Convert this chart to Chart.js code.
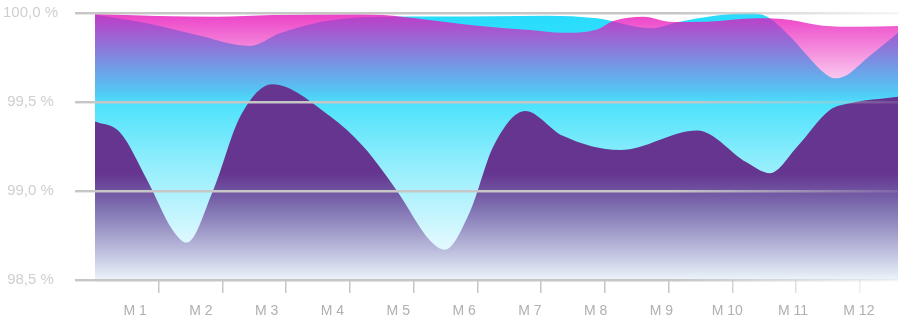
<!DOCTYPE html>
<html>
<head>
<meta charset="utf-8">
<script src="https://cdn.jsdelivr.net/npm/chart.js@4.4.0/dist/chart.umd.min.js"></script>
<style>
  html, body { margin: 0; padding: 0; background: #ffffff; }
  #wrap { width: 909px; height: 326px; position: relative; }
</style>
</head>
<body>
<div id="wrap"><canvas id="chart"></canvas></div>
<script>
// ---- data ----
const categories = ['M 1', 'M 2', 'M 3', 'M 4', 'M 5', 'M 6', 'M 7', 'M 8', 'M 9', 'M 10', 'M 11', 'M 12'];
const categoryPositions = [1, 2, 3, 4, 5, 6, 7, 8, 9, 10, 11, 12];
const yTickValues = [98.5, 99.0, 99.5, 100.0];
const yTickLabels = ['98,5 %', '99,0 %', '99,5 %', '100,0 %'];

// purple series
const purpleX = [0, 0.39, 0.82, 1.22, 1.44, 1.85, 2.28, 2.78, 3.69, 4.21, 4.74, 5.26, 5.49, 5.88, 6.25, 6.75, 7.34, 8.24, 9.45, 10.23, 10.59, 11.02, 11.53, 11.80, 12.60];
const purpleY = [99.39, 99.33, 99.06, 98.78, 98.71, 99.00, 99.42, 99.60, 99.42, 99.25, 99.00, 98.72, 98.67, 98.88, 99.25, 99.45, 99.31, 99.23, 99.34, 99.16, 99.10, 99.25, 99.455, 99.49, 99.53];

// pink series
const pinkX = [0, 0.97, 1.91, 2.79, 4.11, 4.52, 5.15, 6.04, 6.83, 7.34, 7.88, 8.13, 8.60, 9.07, 9.60, 10.39, 10.91, 11.42, 11.96, 12.60];
const pinkY = [99.994, 99.983, 99.979, 99.989, 99.993, 99.989, 99.965, 99.927, 99.904, 99.889, 99.908, 99.955, 99.979, 99.949, 99.951, 99.970, 99.961, 99.929, 99.923, 99.927];

// cyan series
const cyanX = [0, 0.82, 1.60, 2.43, 2.90, 3.42, 3.95, 4.47, 5.41, 7.09, 7.88, 8.71, 9.18, 9.70, 10.28, 10.54, 10.91, 11.17, 11.42, 11.61, 11.80, 12.11, 12.43, 12.60];
const cyanY = [99.992, 99.942, 99.876, 99.815, 99.886, 99.940, 99.970, 99.979, 99.980, 99.985, 99.970, 99.914, 99.951, 99.983, 99.998, 99.980, 99.867, 99.764, 99.670, 99.633, 99.652, 99.746, 99.839, 99.889];

// ---- helpers ----
function pairs(xs, ys) { return xs.map((x, i) => ({ x: x, y: ys[i] })); }

function vGrad(chart, stops) {
  const a = chart.chartArea;
  if (!a) return 'rgba(0,0,0,0)';
  const g = chart.ctx.createLinearGradient(0, a.top, 0, a.bottom);
  stops.forEach(s => g.addColorStop(s[0], s[1]));
  return g;
}
function hGrad(chart, stops) {
  const g = chart.ctx.createLinearGradient(0, 0, chart.width, 0);
  stops.forEach(s => g.addColorStop(s[0], s[1]));
  return g;
}
const gridColor = (c) => hGrad(c.chart, [[0, 'rgba(198,198,198,1)'], [0.74, 'rgba(198,198,198,1)'], [1, 'rgba(198,198,198,0.12)']]);
const xLabelColor = (c) => hGrad(c.chart, [[0, '#b0b0b0'], [0.7, '#c8c8c8'], [1, '#f8f8f8']]);

const FONT = 'Liberation Sans, Arial, Helvetica, sans-serif';

new Chart(document.getElementById('chart'), {
  type: 'line',
  data: {
    datasets: [
      {
        label: 'purple',
        data: pairs(purpleX, purpleY),
        xAxisID: 'x', yAxisID: 'y',
        fill: 'start',
        borderWidth: 0,
        pointRadius: 0,
        cubicInterpolationMode: 'monotone',
        backgroundColor: (c) => vGrad(c.chart, [[0, 'rgba(101,53,143,1)'], [0.6, 'rgba(101,53,143,1)'], [1, 'rgba(101,53,143,0.04)']])
      },
      {
        label: 'pink',
        data: pairs(pinkX, pinkY),
        xAxisID: 'x', yAxisID: 'y',
        fill: 'start',
        borderWidth: 0,
        pointRadius: 0,
        cubicInterpolationMode: 'monotone',
        backgroundColor: (c) => vGrad(c.chart, [[0, 'rgba(232,16,184,0.8)'], [0.345, 'rgba(232,16,184,0)'], [1, 'rgba(232,16,184,0)']])
      },
      {
        label: 'cyan',
        data: pairs(cyanX, cyanY),
        xAxisID: 'x', yAxisID: 'y',
        fill: 'start',
        borderWidth: 0,
        pointRadius: 0,
        cubicInterpolationMode: 'monotone',
        backgroundColor: (c) => vGrad(c.chart, [[0, '#28dcfc'], [0.3, '#40e0fc'], [0.55, '#8eedfc'], [0.85, '#dcf8fe'], [1, '#f2fcff']])
      }
    ]
  },
  options: {
    responsive: true,
    maintainAspectRatio: false,
    animation: false,
    events: [],
    layout: { padding: { left: 0, right: 11, top: 13, bottom: 0 } },
    plugins: { legend: { display: false }, tooltip: { enabled: false } },
    scales: {
      x: {
        type: 'linear',
        axis: 'x',
        position: 'bottom',
        weight: 0,
        min: 0,
        max: 12.6,
        afterBuildTicks: (s) => { s.ticks = categoryPositions.map(v => ({ value: v })); },
        afterFit: (s) => { s.height = 0; s.paddingTop = 0; s.paddingBottom = 0; },
        border: { display: false },
        grid: { drawOnChartArea: false, drawTicks: true, tickLength: 13, color: gridColor, lineWidth: 1.5 },
        ticks: { display: false, autoSkip: false }
      },
      xl: {
        type: 'linear',
        axis: 'x',
        position: 'bottom',
        weight: 1,
        min: 0.391,
        max: 12.595,
        afterBuildTicks: (s) => { s.ticks = categoryPositions.map(v => ({ value: v })); },
        afterFit: (s) => { s.height = 46; s.paddingTop = 0; s.paddingBottom = 0; },
        border: { display: false },
        grid: { display: false, drawTicks: false },
        ticks: {
          callback: (v, i) => categories[i],
          color: xLabelColor,
          font: { family: FONT, size: 14 },
          padding: 23,
          maxRotation: 0,
          autoSkip: false
        }
      },
      y: {
        min: 98.5,
        max: 100,
        afterBuildTicks: (s) => { s.ticks = yTickValues.map(v => ({ value: v })); },
        afterFit: (s) => { s.width = 95; s.paddingTop = 0; s.paddingBottom = 0; },
        border: { display: false },
        grid: { z: 1, color: gridColor, lineWidth: 2.4, tickLength: 20, drawTicks: true },
        ticks: {
          callback: (v, i) => yTickLabels[i],
          color: '#cfcfcf',
          font: { family: FONT, size: 15 },
          crossAlign: 'center',
          padding: 17
        }
      }
    }
  }
});
</script>
</body>
</html>
